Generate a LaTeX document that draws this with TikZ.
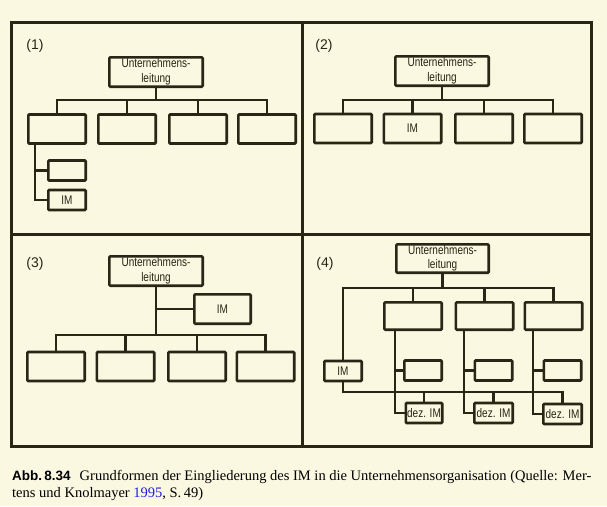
\documentclass[tikz,border=0pt]{standalone}
\usepackage{fontspec}
\setmainfont{Liberation Serif}
\setsansfont{Liberation Sans}
\newfontfamily\narrowsans[FakeStretch=0.8]{Liberation Sans}
\usetikzlibrary{calc}
\definecolor{bg}{RGB}{250,248,225}
\definecolor{ink}{RGB}{40,38,20}
\definecolor{linkblue}{RGB}{30,30,230}
\tikzset{
  bx/.style={draw=ink, line width=2.6pt, rounded corners=1pt, inner sep=0pt,
    font=\narrowsans\fontsize{12.5}{14.5}\selectfont, text=ink, align=center},
  topbox/.style={bx, minimum width=93.4pt, minimum height=29.4pt},
  rowbox/.style={bx, minimum width=57.4pt, minimum height=29pt},
  smallbox/.style={bx, minimum width=37.4pt, minimum height=20pt},
  conn/.style={draw=ink, line width=2.6pt},
  frameline/.style={draw=ink, line width=3pt},
  plabel/.style={font=\sffamily\fontsize{14}{16}\selectfont, text=ink, inner sep=0pt},
  captext/.style={font=\fontsize{14.5}{17}\selectfont, anchor=base west, inner sep=0pt}
}
\begin{document}
\begin{tikzpicture}[x=1pt,y=-1pt]
\fill[bg] (0,0) rectangle (607,506);
\useasboundingbox (0,0) rectangle (607,506);
% frame
\draw[frameline] (11,22) rectangle (591,446);
\draw[frameline] (302,22) -- (302,446);
\draw[frameline] (11,234) -- (591,234);

% ---------- Panel 1
\node[plabel] (l1) at (35,46) {(1)};
\node[topbox] (t1) at (156,72) {Unternehmens-\\leitung};
\coordinate (j1) at (156,100);
\foreach \n/\x in {1/57,2/127,3/198,4/267}
  \node[rowbox] (a\n) at (\x,129) {};
\node[smallbox] (s1) at (67,170.5) {};
\node[smallbox] (im1) at (67,200) {IM};
\coordinate (v1) at (35,0);
\draw[conn] (t1.south) -- (j1);
\draw[conn] (a1.north) -- (a1.north |- j1) -- (a4.north |- j1) -- (a4.north);
\draw[conn] (a2.north) -- (a2.north |- j1);
\draw[conn] (a3.north) -- (a3.north |- j1);
\draw[conn] (a1.south -| v1) |- (im1.west);
\draw[conn] (s1.west) -- (s1.west -| v1);

% ---------- Panel 2
\node[plabel] (l2) at (324,46) {(2)};
\node[topbox] (t2) at (442,71) {Unternehmens-\\leitung};
\coordinate (j2) at (442,100);
\node[rowbox] (b1) at (343,128.5) {};
\node[rowbox] (b2) at (412.5,128.5) {IM};
\node[rowbox] (b3) at (484,128.5) {};
\node[rowbox] (b4) at (553,128.5) {};
\draw[conn] (t2.south) -- (j2);
\draw[conn] (b1.north) -- (b1.north |- j2) -- (b4.north |- j2) -- (b4.north);
\draw[conn] (b2.north) -- (b2.north |- j2);
\draw[conn] (b3.north) -- (b3.north |- j2);

% ---------- Panel 3
\node[plabel] (l3) at (35,264) {(3)};
\node[topbox] (t3) at (156,271) {Unternehmens-\\leitung};
\coordinate (j3) at (156,335);
\node[bx, minimum width=56.4pt, minimum height=29.4pt] (im3) at (222.5,309) {IM};
\foreach \n/\x in {1/56,2/125.5,3/197,4/265.5}
  \node[rowbox] (c\n) at (\x,366.5) {};
\draw[conn] (t3.south) -- (j3);
\draw[conn] (im3.west) -- (im3.west -| j3);
\draw[conn] (c1.north) -- (c1.north |- j3) -- (c4.north |- j3) -- (c4.north);
\draw[conn] (c2.north) -- (c2.north |- j3);
\draw[conn] (c3.north) -- (c3.north |- j3);

% ---------- Panel 4
\node[plabel] (l4) at (325,264) {(4)};
\node[topbox, minimum width=92.4pt, minimum height=28.4pt] (t4) at (442.5,258.5) {Unternehmens-\\leitung};
\coordinate (j4) at (442.5,288);
\node[smallbox] (im4) at (343,371) {IM};
\node[rowbox, minimum height=27.4pt] (d1) at (413,316) {};
\node[rowbox, minimum height=27.4pt] (d2) at (484.5,316) {};
\node[rowbox, minimum height=27.4pt] (d3) at (553.5,316) {};
\node[smallbox] (e1) at (423,370.5) {};
\node[smallbox] (e2) at (493.5,370.5) {};
\node[smallbox] (e3) at (562.5,370.5) {};
\node[smallbox, minimum width=36.4pt] (f1) at (424,413) {dez. IM};
\node[smallbox, minimum width=38.4pt] (f2) at (493.5,413) {dez. IM};
\node[smallbox, minimum width=38.4pt] (f3) at (562.5,414) {dez. IM};
\coordinate (w1) at (395,0);
\coordinate (w2) at (464,0);
\coordinate (w3) at (533,0);
\coordinate (k4) at (0,392);
\draw[conn] (t4.south) -- (j4);
\draw[conn] (im4.north) -- (im4.north |- j4) -- (d3.north |- j4) -- (d3.north);
\draw[conn] (d1.north) -- (d1.north |- j4);
\draw[conn] (d2.north) -- (d2.north |- j4);
\foreach \i in {1,2,3}{
  \draw[conn] (d\i.south -| w\i) |- (f\i.west);
  \draw[conn] (e\i.west) -- (e\i.west -| w\i);
}
\draw[conn] (im4.south) -- (im4.south |- k4) -- (f3.north |- k4) -- (f3.north);
\draw[conn] (f1.north) -- (f1.north |- k4);
\draw[conn] (f2.north) -- (f2.north |- k4);

% ---------- Caption
\node[captext] (cap1) at (12,480) {{\sffamily\bfseries\fontsize{13.5}{16}\selectfont Abb.\,8.34}\hspace{9pt}Grundformen der Eingliederung des IM in die Unternehmensorganisation (Quelle: Mer-};
\node[captext] (cap2) at (12,497) {tens und Knolmayer \textcolor{linkblue}{1995}, S.\,49)};
\end{tikzpicture}
\end{document}
